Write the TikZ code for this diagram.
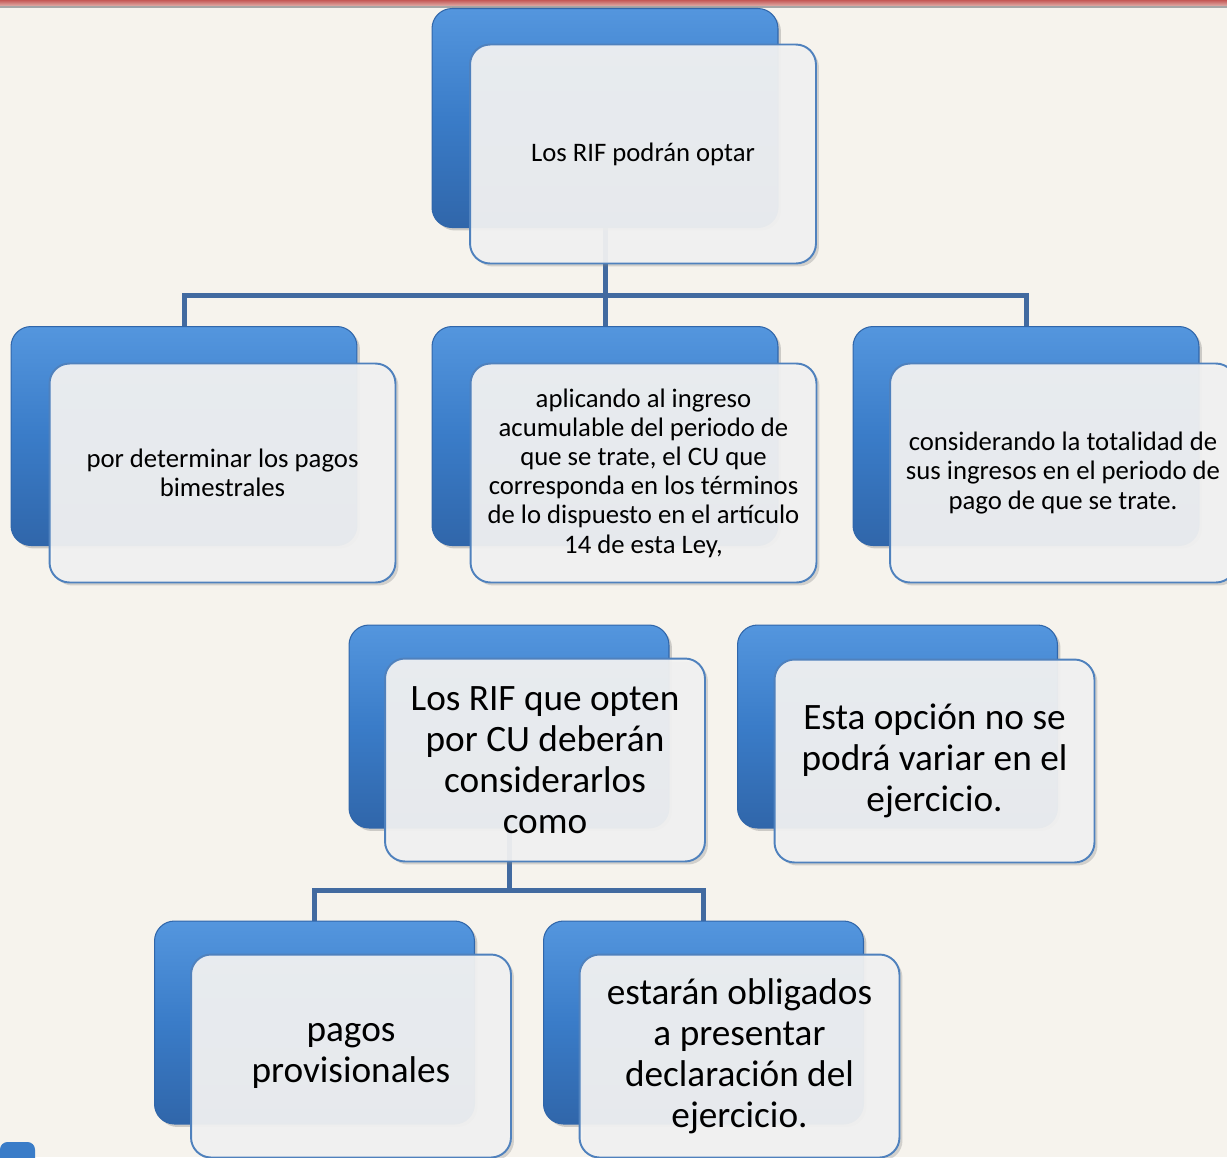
\documentclass[tikz,border=0pt]{standalone}
\usepackage{fontspec}
\setmainfont{Carlito}
\usetikzlibrary{shadows}

\definecolor{paper}{RGB}{246,243,237}
\definecolor{boxblue}{RGB}{58,124,200}
\definecolor{boxbluedark}{RGB}{48,102,170}
\definecolor{boxbluelight}{RGB}{84,150,222}
\definecolor{frontfill}{RGB}{243,243,243}
\definecolor{frontedge}{RGB}{79,129,189}
\definecolor{linkblue}{RGB}{66,106,160}
\definecolor{topred}{RGB}{196,88,86}

\pgfdeclarelayer{bg}
\pgfsetlayers{bg,main}

\begin{document}
\begin{tikzpicture}[
  x=0.02cm, y=-0.02cm,
  every node/.style={inner sep=1pt},
  back/.style={rounded corners=0.4cm, draw=boxbluedark, line width=0.6pt,
    top color=boxbluelight, bottom color=boxbluedark, middle color=boxblue,
    drop shadow={shadow xshift=0.06cm, shadow yshift=-0.06cm, opacity=0.35}},
  front/.style={rounded corners=0.4cm, draw=frontedge, line width=1.1pt,
    fill=frontfill, fill opacity=0.93, text opacity=1, align=center,
    drop shadow={shadow xshift=0.06cm, shadow yshift=-0.06cm, opacity=0.3}},
  wide/.style={minimum width=6.92cm, minimum height=4.38cm},
  narrow/.style={minimum width=6.4cm, minimum height=4.06cm},
  small/.style={font=\fontsize{15.2}{16.6}\selectfont},
  large/.style={font=\fontsize{21.2}{23.3}\selectfont},
  link/.style={draw=linkblue, line width=0.1cm},
  topband/.style={top color=topred, bottom color=topred!45!paper}]

  \useasboundingbox (0,0) rectangle (1227,1157);

  % background and page frame
  \begin{pgfonlayer}{bg}
    \fill[paper] (0,0) rectangle (1227,1157);
    \fill[topband] (0,0) rectangle (1227,6);
    \draw[gray!70, line width=0.6pt] (0,7) -- (1227,7);
    \fill[boxblue, rounded corners=0.15cm] (0,1142) rectangle (35,1170);
  \end{pgfonlayer}

  % top level
  \node[back, wide] (rifB) at (605,118) {};
  \node[front, wide, small] (rif) at (643,154) {Los RIF podrán optar};

  % second level
  \node[back, wide] (bimB) at (184,436) {};
  \node[front, wide, small] (bim) at (222.5,473)
    {por determinar los pagos\\bimestrales};
  \node[back, wide] (cuB) at (605,436) {};
  \node[front, wide, small] (cu) at (643.5,473)
    {aplicando al ingreso\\acumulable del periodo de\\que se trate, el CU que\\corresponda en los términos\\de lo dispuesto en el artículo\\14 de esta Ley,};
  \node[back, wide] (totB) at (1026,436) {};
  \node[front, wide, small] (tot) at (1063,473)
    {considerando la totalidad de\\sus ingresos en el periodo de\\pago de que se trate.};

  % third level
  \node[back, narrow] (optB) at (509,726.5) {};
  \node[front, narrow, large] (opt) at (545,760)
    {Los RIF que opten\\por CU deberán\\considerarlos\\como};
  \node[back, narrow] (varB) at (897.5,726.5) {};
  \node[front, narrow, large] (var) at (934.5,761)
    {Esta opción no se\\podrá variar en el\\ejercicio.};

  % fourth level
  \node[back, narrow] (provB) at (314.5,1022.5) {};
  \node[front, narrow, large] (prov) at (351,1056)
    {pagos\\provisionales};
  \node[back, narrow] (declB) at (703.5,1022.5) {};
  \node[front, narrow, large] (decl) at (739.5,1056)
    {estarán obligados\\a presentar\\declaración del\\ejercicio.};

  % connectors
  \coordinate (j1) at (605,295);
  \coordinate (j2) at (509,890);
  \begin{pgfonlayer}{bg}
    \draw[link] (rifB.center) -- (cuB.north);
    \draw[link] (bimB.north) |- (j1) -| (totB.north);
    \draw[link] (optB.center) -- (j2);
    \draw[link] (provB.north) |- (j2) -| (declB.north);
  \end{pgfonlayer}

\end{tikzpicture}
\end{document}
